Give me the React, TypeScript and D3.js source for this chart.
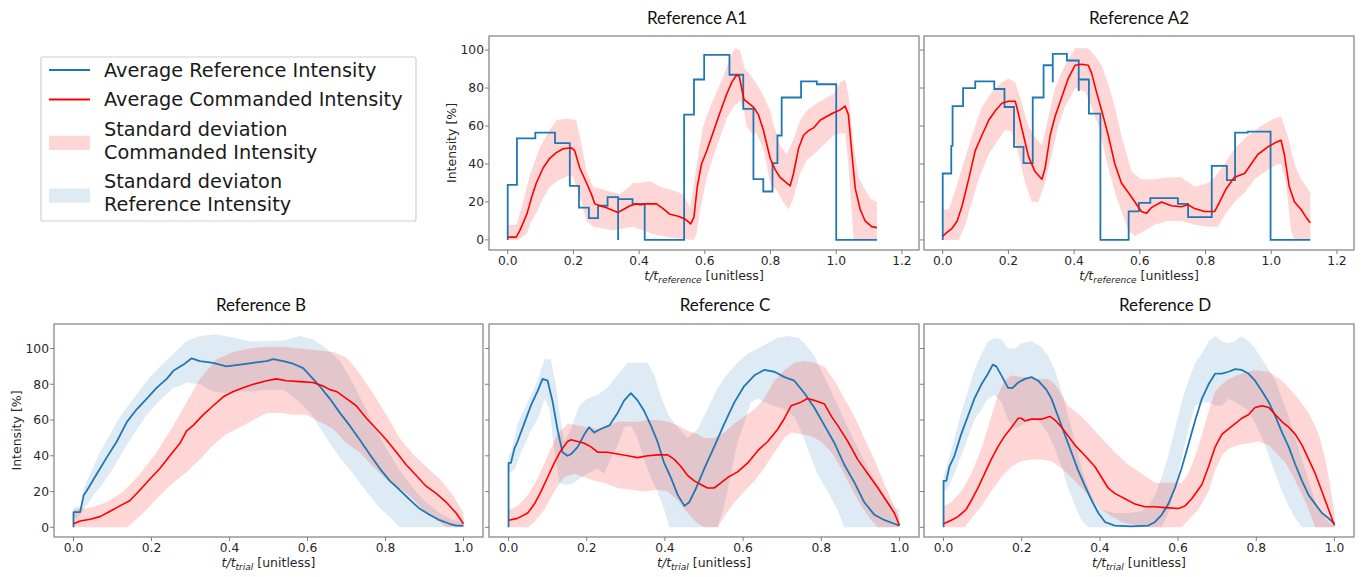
import React from 'react';
import * as d3 from 'd3';

type P = [number, number];

// ---------- tick values ----------
const topTicksX = [0, 0.2, 0.4, 0.6, 0.8, 1.0, 1.2];
const bottomTicksX = [0, 0.2, 0.4, 0.6, 0.8, 1.0];
const ticksY = [0, 20, 40, 60, 80, 100];

// ---------- legend ----------
const legendLabels = [
  ['Average Reference Intensity'],
  ['Average Commanded Intensity'],
  ['Standard deviation', 'Commanded Intensity'],
  ['Standard deviaton', 'Reference Intensity'],
];

// ---------- Reference A1 ----------
const a1RefStep: P[] = [[0,0],[0,29],[0.028,53.5],[0.084,56.5],[0.144,51],[0.189,28.5],[0.217,17],[0.247,11.5],[0.275,18],[0.304,22.5],[0.336,0],[0.336,21.5],[0.38,19],[0.417,0],[0.537,66],[0.567,84.5],[0.598,97.5],[0.675,87],[0.717,69],[0.748,32],[0.778,25.5],[0.806,40.5],[0.821,55],[0.834,75],[0.893,83.5],[0.941,82],[1.0,0],[1.124,0]];
const a1CmdMean: P[] = [[0,1.5],[0.026,1.5],[0.037,5],[0.047,9],[0.059,14],[0.072,22],[0.087,30],[0.108,38],[0.128,43],[0.148,46],[0.169,48],[0.194,48.5],[0.204,47],[0.219,38],[0.24,30],[0.255,24],[0.265,19],[0.28,18],[0.301,17],[0.321,15.5],[0.336,14.5],[0.352,16],[0.372,18],[0.392,19],[0.402,18.5],[0.423,19],[0.453,19],[0.473,16.5],[0.494,13.5],[0.519,12.5],[0.54,11],[0.557,8.5],[0.567,12],[0.577,28],[0.59,40],[0.606,47],[0.626,57],[0.646,67],[0.667,77],[0.682,83],[0.697,87],[0.705,86],[0.712,80],[0.719,74],[0.733,72],[0.748,70],[0.763,66],[0.778,58],[0.799,43],[0.814,37],[0.829,33],[0.849,30],[0.86,28.5],[0.87,35],[0.885,48],[0.9,55],[0.915,57.5],[0.931,59],[0.951,63],[0.971,65],[0.992,67],[1.012,68.5],[1.027,70.5],[1.037,66],[1.048,45],[1.058,27],[1.073,16],[1.088,10],[1.108,7],[1.124,6.5]];
const a1CmdUpper: P[] = [[0,8],[0.026,8],[0.042,17],[0.067,34],[0.098,49],[0.128,58],[0.148,63],[0.179,64],[0.209,63],[0.225,50],[0.24,36],[0.26,28],[0.301,26],[0.341,24],[0.362,27],[0.382,30],[0.402,30],[0.433,31],[0.463,28],[0.504,26],[0.534,24],[0.555,17],[0.567,30],[0.58,45],[0.595,60],[0.616,70],[0.636,78],[0.656,86],[0.677,96],[0.692,101],[0.707,100],[0.722,90],[0.738,87],[0.758,82],[0.778,76],[0.799,68],[0.809,61],[0.829,50],[0.849,45],[0.87,53],[0.89,63],[0.91,68],[0.941,72],[0.971,75],[0.992,77],[1.012,83],[1.027,84.5],[1.037,77],[1.053,50],[1.068,33],[1.083,28],[1.103,22],[1.124,20]];
const a1CmdLower: P[] = [[0,0],[0.031,0],[0.057,3],[0.072,10],[0.087,14],[0.108,22],[0.128,28],[0.159,32],[0.189,34],[0.199,33],[0.219,23],[0.24,10],[0.26,7],[0.291,6],[0.321,5],[0.352,6],[0.382,7],[0.413,5],[0.443,3],[0.473,2],[0.504,1],[0.534,0.5],[0.565,0],[0.575,3],[0.585,15],[0.606,33],[0.626,44],[0.646,54],[0.667,64],[0.687,70],[0.707,73],[0.717,70],[0.727,60],[0.743,56],[0.758,56],[0.778,48],[0.799,30],[0.819,26],[0.839,20],[0.855,16],[0.87,22],[0.89,35],[0.91,42],[0.931,45],[0.961,50],[0.992,55],[1.012,56],[1.027,56],[1.037,40],[1.053,0],[1.124,0]];

// ---------- Reference A2 ----------
const a2RefStep: P[] = [[0,0],[0,35],[0.026,49.5],[0.03,70.5],[0.062,80],[0.099,83.5],[0.157,79.5],[0.188,70],[0.217,49],[0.246,40.5],[0.274,75],[0.307,92],[0.335,83],[0.335,98],[0.378,94.5],[0.414,78.5],[0.414,84.5],[0.445,66.5],[0.48,0],[0.566,15],[0.597,19.5],[0.632,22],[0.716,19],[0.747,12],[0.819,39],[0.865,31.5],[0.89,56.5],[0.929,57],[0.998,0],[1.119,0]];
const a2CmdMean: P[] = [[0,2],[0.013,4],[0.028,6],[0.044,10],[0.059,18],[0.079,32],[0.099,47],[0.119,55],[0.14,63],[0.16,68],[0.18,72],[0.2,73],[0.221,73],[0.231,66],[0.246,55],[0.261,44],[0.281,36],[0.302,32],[0.312,38],[0.327,55],[0.342,65],[0.362,75],[0.382,85],[0.403,92],[0.423,92.5],[0.443,92],[0.453,88],[0.468,78],[0.484,68],[0.504,55],[0.524,40],[0.544,30],[0.565,25],[0.585,20],[0.605,15],[0.62,14],[0.635,17],[0.666,20],[0.696,18],[0.726,17.5],[0.747,18.5],[0.767,16.5],[0.797,15],[0.828,15],[0.843,20],[0.863,27],[0.888,33],[0.919,35],[0.939,40],[0.959,45],[0.99,49],[1.01,51],[1.03,52.5],[1.04,45],[1.055,28],[1.071,20],[1.091,16],[1.106,12],[1.119,9]];
const a2CmdUpper: P[] = [[0,16],[0.018,16],[0.038,26],[0.059,38],[0.089,55],[0.119,70],[0.15,78],[0.18,83],[0.2,85],[0.221,83],[0.241,72],[0.261,60],[0.281,54],[0.302,50],[0.322,65],[0.342,80],[0.372,92],[0.403,101],[0.443,101],[0.463,97],[0.484,92],[0.504,82],[0.524,70],[0.544,55],[0.575,36],[0.605,32],[0.646,32],[0.686,33],[0.726,33],[0.767,28],[0.807,30],[0.828,33],[0.858,40],[0.888,48],[0.929,55],[0.969,60],[1.01,64],[1.03,65],[1.05,55],[1.071,40],[1.091,32],[1.119,25]];
const a2CmdLower: P[] = [[0,0],[0.049,0],[0.069,8],[0.089,20],[0.109,32],[0.14,45],[0.17,53],[0.19,58],[0.21,57],[0.231,45],[0.251,30],[0.271,20],[0.291,20],[0.312,30],[0.332,45],[0.352,60],[0.372,70],[0.403,80],[0.433,78],[0.453,70],[0.474,60],[0.504,38],[0.524,25],[0.544,15],[0.565,5],[0.585,2],[0.615,5],[0.646,8],[0.686,10],[0.726,10],[0.767,8],[0.807,7],[0.838,7],[0.858,13],[0.888,20],[0.919,25],[0.949,32],[0.99,37],[1.02,40],[1.03,40],[1.045,30],[1.06,5],[1.071,0],[1.119,0]];

// ---------- Reference B ----------
const bRefMean: P[] = [[0,0],[0,8.5],[0.017,8.5],[0.026,18],[0.034,20.5],[0.06,30],[0.085,39],[0.111,48],[0.137,59],[0.162,66],[0.188,72],[0.213,78],[0.239,83],[0.256,87.5],[0.282,91],[0.303,94.5],[0.324,93],[0.358,92],[0.392,90],[0.427,91],[0.461,92],[0.495,93],[0.512,94],[0.538,93],[0.563,91.5],[0.589,89],[0.606,85],[0.631,79],[0.657,72],[0.683,64],[0.708,57],[0.734,49],[0.759,41],[0.785,33],[0.811,26],[0.836,21],[0.862,15.5],[0.887,10.5],[0.913,7],[0.939,4],[0.964,2],[0.981,1],[1,1]];
const bRefUpper: P[] = [[0,11],[0.021,12],[0.026,22],[0.043,30],[0.068,42],[0.094,52],[0.119,62],[0.154,72],[0.188,82],[0.222,90],[0.256,97],[0.29,104],[0.324,107],[0.367,108],[0.41,106],[0.452,104],[0.495,104],[0.538,104.5],[0.58,107],[0.614,105],[0.648,100],[0.683,93],[0.708,84],[0.734,73],[0.768,58],[0.802,44],[0.836,32],[0.87,22],[0.904,14],[0.939,8],[0.973,4],[1,3]];
const bRefLower: P[] = [[0,5],[0.009,5],[0.026,10],[0.051,18],[0.077,25],[0.102,33],[0.128,43],[0.154,52],[0.188,63],[0.222,71],[0.256,78],[0.273,79],[0.29,81],[0.324,80],[0.358,76],[0.392,75],[0.427,76],[0.461,76],[0.495,77],[0.538,77],[0.563,73],[0.589,68],[0.614,62],[0.631,56],[0.657,47],[0.683,39],[0.717,30],[0.751,20],[0.785,11],[0.819,4],[0.836,0],[1,0]];
const bCmdMean: P[] = [[0,2],[0.017,3.5],[0.043,4.5],[0.068,6],[0.094,9],[0.119,12],[0.145,15],[0.171,21],[0.196,27],[0.222,33],[0.247,40],[0.273,47],[0.29,54],[0.307,57],[0.333,63],[0.358,68],[0.384,73],[0.41,76],[0.435,78],[0.461,80],[0.495,82],[0.52,83],[0.546,82],[0.58,81.5],[0.614,81],[0.64,79],[0.657,77],[0.674,76],[0.7,72],[0.725,68],[0.751,61],[0.777,55],[0.802,49],[0.828,42],[0.853,35],[0.879,29],[0.904,23],[0.93,19],[0.956,14],[0.981,8],[1,2]];
const bCmdUpper: P[] = [[0,10],[0.043,11],[0.085,14],[0.128,20],[0.171,30],[0.213,42],[0.256,57],[0.29,70],[0.324,83],[0.367,94],[0.41,98],[0.452,100],[0.495,101],[0.538,101],[0.58,100],[0.623,99],[0.666,98],[0.7,95],[0.734,86],[0.768,75],[0.802,63],[0.836,50],[0.87,41],[0.904,34],[0.939,27],[0.973,18],[1,8]];
const bCmdLower: P[] = [[0,0],[0.137,0],[0.154,3],[0.188,10],[0.222,18],[0.256,25],[0.29,31],[0.324,38],[0.358,46],[0.392,52],[0.427,56],[0.461,60],[0.495,64],[0.529,64],[0.563,63],[0.597,63],[0.631,59],[0.666,55],[0.7,47],[0.734,42],[0.768,34],[0.802,27],[0.836,22],[0.87,16],[0.904,8],[0.939,3],[0.956,0],[1,0]];

// ---------- Reference C ----------
const cRefMean: P[] = [[0,0],[0,36],[0.006,36],[0.015,44],[0.023,48],[0.04,58],[0.057,68],[0.074,76],[0.087,83],[0.1,82],[0.113,70],[0.125,55],[0.138,42],[0.151,40],[0.16,41],[0.177,45],[0.194,52],[0.206,56],[0.219,53],[0.236,55],[0.258,57],[0.279,64],[0.296,71],[0.313,75],[0.33,71],[0.347,65],[0.364,57],[0.381,48],[0.398,36],[0.415,28],[0.433,18],[0.45,12],[0.462,14],[0.48,22],[0.501,33],[0.526,45],[0.552,58],[0.578,70],[0.603,79],[0.629,85],[0.654,88],[0.68,87],[0.706,84],[0.731,82],[0.757,75],[0.782,67],[0.808,57],[0.834,47],[0.859,35],[0.885,25],[0.91,14],[0.936,7],[0.962,4],[0.987,2],[1,1]];
const cRefUpper: P[] = [[0,40],[0.006,42],[0.023,58],[0.049,70],[0.074,82],[0.092,94],[0.108,94],[0.121,80],[0.13,65],[0.142,48],[0.16,55],[0.181,68],[0.202,72],[0.227,74],[0.253,78],[0.279,85],[0.305,92],[0.33,92],[0.356,92],[0.373,85],[0.39,73],[0.411,62],[0.433,56],[0.458,50],[0.484,55],[0.509,66],[0.535,78],[0.561,86],[0.586,92],[0.612,97],[0.638,100],[0.663,103],[0.689,106],[0.715,107],[0.741,106],[0.757,103],[0.782,96],[0.808,84],[0.834,72],[0.859,60],[0.885,48],[0.91,37],[0.936,27],[0.962,18],[0.987,11],[1,10]];
const cRefLower: P[] = [[0,30],[0.015,32],[0.032,42],[0.057,54],[0.078,62],[0.092,72],[0.104,67],[0.116,45],[0.13,25],[0.142,24],[0.16,24],[0.181,27],[0.202,30],[0.227,33],[0.244,30],[0.261,38],[0.279,46],[0.296,56],[0.313,57],[0.33,50],[0.347,38],[0.364,28],[0.381,20],[0.398,10],[0.411,0],[0.535,0],[0.552,12],[0.569,30],[0.586,48],[0.603,58],[0.62,70],[0.638,72],[0.654,70],[0.68,68],[0.706,66],[0.731,62],[0.748,54],[0.765,44],[0.79,30],[0.816,20],[0.841,10],[0.859,0],[1,0]];
const cCmdMean: P[] = [[0,4],[0.023,5],[0.049,8],[0.066,13],[0.083,20],[0.1,28],[0.117,36],[0.134,43],[0.151,48],[0.16,49],[0.177,48],[0.194,47],[0.211,45],[0.228,42],[0.253,42],[0.279,41],[0.305,40],[0.33,39],[0.356,40],[0.381,40.5],[0.407,40.5],[0.424,38],[0.441,34],[0.458,29],[0.475,26],[0.492,24],[0.509,22],[0.526,22],[0.544,25],[0.561,28],[0.586,31],[0.612,36],[0.638,43],[0.663,48],[0.689,55],[0.706,61],[0.723,68],[0.748,70],[0.765,72],[0.782,71],[0.808,69],[0.826,62],[0.842,57],[0.868,48],[0.893,38],[0.919,30],[0.945,22],[0.969,14],[0.987,8],[1,1]];
const cCmdUpper: P[] = [[0,10],[0.023,12],[0.049,18],[0.074,27],[0.1,40],[0.125,52],[0.151,58],[0.177,57],[0.202,56],[0.227,55],[0.253,57],[0.279,59],[0.305,59],[0.33,59],[0.356,60],[0.381,60],[0.407,59],[0.433,57],[0.458,54],[0.484,52],[0.501,50],[0.526,50],[0.552,53],[0.578,58],[0.603,62],[0.629,66],[0.654,72],[0.68,82],[0.706,88],[0.731,92],[0.757,93],[0.782,92],[0.808,90],[0.834,82],[0.859,72],[0.885,62],[0.91,50],[0.936,38],[0.962,24],[0.987,12],[1,5]];
const cCmdLower: P[] = [[0,0],[0.049,0],[0.066,3],[0.092,10],[0.117,20],[0.142,28],[0.168,30],[0.194,28],[0.219,26],[0.244,25],[0.279,22],[0.313,21],[0.347,20],[0.381,21],[0.407,20],[0.433,15],[0.458,8],[0.484,2],[0.501,0],[0.535,0],[0.552,6],[0.578,14],[0.603,20],[0.629,26],[0.654,33],[0.68,42],[0.706,50],[0.723,53],[0.748,52],[0.774,51],[0.8,48],[0.826,42],[0.851,33],[0.877,22],[0.902,12],[0.928,4],[0.945,0],[1,0]];

// ---------- Reference D ----------
const dRefMean: P[] = [[0,0],[0,26],[0.007,26],[0.015,34],[0.028,40],[0.045,52],[0.062,62],[0.079,72],[0.097,80],[0.114,86],[0.126,91],[0.135,90],[0.148,85],[0.165,78],[0.177,78],[0.191,81],[0.208,83],[0.225,84],[0.242,82],[0.263,77],[0.276,72],[0.293,62],[0.31,52],[0.327,42],[0.344,32],[0.362,23],[0.379,15],[0.396,8],[0.413,3],[0.438,1],[0.481,0.5],[0.524,1],[0.541,3],[0.558,7],[0.575,13],[0.592,22],[0.609,33],[0.626,46],[0.644,60],[0.661,72],[0.678,80],[0.695,86],[0.712,86],[0.729,87],[0.746,88.5],[0.763,88],[0.78,86],[0.797,82],[0.815,76],[0.832,70],[0.849,62],[0.866,53],[0.883,45],[0.9,35],[0.917,26],[0.934,18],[0.951,13],[0.968,8],[0.985,5],[1,2]];
const dRefUpper: P[] = [[0,28],[0.011,36],[0.028,50],[0.045,64],[0.062,76],[0.079,88],[0.097,97],[0.114,104],[0.131,106],[0.148,105],[0.165,100],[0.182,100],[0.199,103],[0.225,104],[0.25,101],[0.268,96],[0.285,88],[0.302,76],[0.319,62],[0.336,48],[0.353,33],[0.37,22],[0.387,14],[0.404,10],[0.438,8],[0.473,8],[0.507,9],[0.524,12],[0.541,18],[0.558,28],[0.575,40],[0.592,55],[0.609,70],[0.626,82],[0.644,92],[0.661,97],[0.678,104],[0.695,107],[0.712,104],[0.729,103],[0.746,104],[0.763,107],[0.78,104],[0.797,100],[0.815,94],[0.832,88],[0.849,82],[0.866,72],[0.883,62],[0.9,50],[0.917,38],[0.934,26],[0.951,14],[0.968,7],[0.985,3],[1,0]];
const dRefLower: P[] = [[0,20],[0.011,22],[0.028,30],[0.045,40],[0.062,50],[0.079,60],[0.097,66],[0.114,72],[0.131,74],[0.148,70],[0.165,60],[0.182,55],[0.199,57],[0.216,60],[0.234,60],[0.25,58],[0.268,52],[0.285,44],[0.302,34],[0.319,22],[0.336,12],[0.353,4],[0.37,0],[0.558,0],[0.575,8],[0.592,22],[0.609,38],[0.626,55],[0.644,68],[0.661,70],[0.678,70],[0.695,68],[0.712,68],[0.729,72],[0.746,70],[0.763,68],[0.78,65],[0.797,58],[0.815,50],[0.832,40],[0.849,30],[0.866,20],[0.883,12],[0.9,5],[0.917,0],[1,0]];
const dCmdMean: P[] = [[0,2],[0.02,4],[0.037,6],[0.058,10],[0.071,15],[0.088,22],[0.105,30],[0.122,38],[0.139,45],[0.156,51],[0.174,56],[0.191,61],[0.199,61],[0.208,59.5],[0.225,60.5],[0.25,60.5],[0.272,62],[0.285,60],[0.302,56],[0.319,51],[0.336,46],[0.362,40],[0.387,34],[0.404,28],[0.421,22],[0.438,19],[0.464,16],[0.49,13],[0.515,11.5],[0.541,11.5],[0.567,11],[0.601,10.5],[0.618,12],[0.635,16],[0.661,24],[0.678,34],[0.695,45],[0.712,52],[0.729,55],[0.746,58],[0.763,61],[0.78,63],[0.797,67],[0.815,68],[0.832,67],[0.849,63],[0.866,59],[0.883,56],[0.9,52],[0.917,46],[0.934,38],[0.951,30],[0.968,20],[0.985,10],[1,1]];
const dCmdUpper: P[] = [[0,12],[0.02,14],[0.045,20],[0.071,30],[0.097,44],[0.122,62],[0.139,74],[0.156,82],[0.174,85],[0.199,84],[0.234,83],[0.268,83],[0.285,80],[0.302,74],[0.319,68],[0.336,65],[0.353,62],[0.37,58],[0.387,54],[0.404,50],[0.438,42],[0.473,35],[0.507,30],[0.541,25],[0.575,25],[0.609,25],[0.626,30],[0.644,40],[0.661,52],[0.678,65],[0.695,76],[0.712,80],[0.729,83],[0.763,86],[0.797,88],[0.832,87],[0.866,82],[0.9,74],[0.934,64],[0.96,52],[0.977,38],[0.99,22],[1,8]];
const dCmdLower: P[] = [[0,0],[0.054,0],[0.071,5],[0.097,12],[0.122,20],[0.148,28],[0.174,34],[0.199,37],[0.225,38],[0.25,38],[0.276,37],[0.302,33],[0.327,28],[0.353,22],[0.379,16],[0.404,10],[0.43,6],[0.456,3],[0.49,1],[0.524,0],[0.609,0],[0.626,4],[0.652,10],[0.678,20],[0.695,32],[0.712,40],[0.729,44],[0.755,46],[0.78,47],[0.806,48],[0.832,46],[0.849,42],[0.875,36],[0.9,26],[0.926,14],[0.943,5],[0.951,0],[1,0]];

// ---------- styling ----------
const BLUE = '#1f77b4';
const RED = '#ff0000';
const FONT = '"DejaVu Sans", sans-serif';
const TITLE_FONT = 'Lato, "Open Sans", sans-serif';
const SPINE = '#7f7f7f';

interface PanelDef {
  title: string;
  titleX: number;
  box: [number, number, number, number]; // left, right, top, bottom
  xDom: [number, number];
  yDom: [number, number];
  xTicks: number[];
  showYLabels: boolean;
  sub: string;
  refStep?: P[];
  refMean?: P[];
  refUpper?: P[];
  refLower?: P[];
  cmdMean: P[];
  cmdUpper: P[];
  cmdLower: P[];
}

const TOP_X: [number, number] = [-0.057, 1.252];
const TOP_Y: [number, number] = [-5.3, 107.4];
const BOT_X: [number, number] = [-0.05, 1.05];
const BOT_Y: [number, number] = [-5.4, 113.7];

const panels: PanelDef[] = [
  { title: 'Reference A1', titleX: 697, box: [489, 919, 36, 250], xDom: TOP_X, yDom: TOP_Y, xTicks: topTicksX, showYLabels: true, sub: 'reference', refStep: a1RefStep, cmdMean: a1CmdMean, cmdUpper: a1CmdUpper, cmdLower: a1CmdLower },
  { title: 'Reference A2', titleX: 1139, box: [924, 1354, 36, 250], xDom: TOP_X, yDom: TOP_Y, xTicks: topTicksX, showYLabels: false, sub: 'reference', refStep: a2RefStep, cmdMean: a2CmdMean, cmdUpper: a2CmdUpper, cmdLower: a2CmdLower },
  { title: 'Reference B', titleX: 261, box: [54, 483, 324, 537], xDom: BOT_X, yDom: BOT_Y, xTicks: bottomTicksX, showYLabels: true, sub: 'trial', refMean: bRefMean, refUpper: bRefUpper, refLower: bRefLower, cmdMean: bCmdMean, cmdUpper: bCmdUpper, cmdLower: bCmdLower },
  { title: 'Reference C', titleX: 725, box: [489, 919, 324, 537], xDom: BOT_X, yDom: BOT_Y, xTicks: bottomTicksX, showYLabels: false, sub: 'trial', refMean: cRefMean, refUpper: cRefUpper, refLower: cRefLower, cmdMean: cCmdMean, cmdUpper: cCmdUpper, cmdLower: cCmdLower },
  { title: 'Reference D', titleX: 1165, box: [924, 1354, 324, 537], xDom: BOT_X, yDom: BOT_Y, xTicks: bottomTicksX, showYLabels: false, sub: 'trial', refMean: dRefMean, refUpper: dRefUpper, refLower: dRefLower, cmdMean: dCmdMean, cmdUpper: dCmdUpper, cmdLower: dCmdLower },
];

function Panel({ p }: { p: PanelDef }) {
  const [l, r, t, b] = p.box;
  const x = d3.scaleLinear().domain(p.xDom).range([l, r]);
  const y = d3.scaleLinear().domain(p.yDom).range([b, t]);
  const line = d3.line<P>().x(d => x(d[0])).y(d => y(d[1]));
  const step = d3.line<P>().x(d => x(d[0])).y(d => y(d[1])).curve(d3.curveStepAfter);
  const band = (up: P[], lo: P[]) => (line([...up, ...lo.slice().reverse()]) || '') + 'Z';
  const cx = (l + r) / 2;
  const cy = (t + b) / 2;
  return (
    <g>
      {p.refUpper && p.refLower && (
        <path d={band(p.refUpper, p.refLower)} fill={BLUE} fillOpacity={0.15} stroke="none" />
      )}
      <path d={band(p.cmdUpper, p.cmdLower)} fill={RED} fillOpacity={0.16} stroke="none" />
      {p.refStep && <path d={step(p.refStep) || ''} fill="none" stroke={BLUE} strokeWidth={1.8} />}
      {p.refMean && <path d={line(p.refMean) || ''} fill="none" stroke={BLUE} strokeWidth={1.8} strokeLinejoin="round" />}
      <path d={line(p.cmdMean) || ''} fill="none" stroke={RED} strokeWidth={1.6} strokeLinejoin="round" />
      <rect x={l} y={t} width={r - l} height={b - t} fill="none" stroke={SPINE} strokeWidth={1.2} />
      {p.xTicks.map(v => (
        <g key={'x' + v}>
          <line x1={x(v)} x2={x(v)} y1={b} y2={b + 4} stroke={SPINE} strokeWidth={1} />
          <text x={x(v)} y={b + 15} textAnchor="middle" fontFamily={FONT} fontSize={12.3} fill="#262626">{v.toFixed(1)}</text>
        </g>
      ))}
      {ticksY.map(v => (
        <g key={'y' + v}>
          <line x1={l - 4} x2={l} y1={y(v)} y2={y(v)} stroke={SPINE} strokeWidth={1} />
          {p.showYLabels && (
            <text x={l - 5} y={y(v)} dy="0.36em" textAnchor="end" fontFamily={FONT} fontSize={12.3} fill="#262626">{v}</text>
          )}
        </g>
      ))}
      {p.showYLabels && (
        <text transform={`translate(${l - 38},${cy}) rotate(-90)`} textAnchor="middle" dy="0.36em" fontFamily={FONT} fontSize={12.5} fill="#262626">Intensity [%]</text>
      )}
      <text x={cx} y={b + 30} textAnchor="middle" fontFamily={FONT} fontSize={12.5} fill="#262626">
        <tspan fontStyle="italic">t/t</tspan>
        <tspan fontStyle="italic" fontSize={9} dy={3}>{p.sub}</tspan>
        <tspan dy={-3}> [unitless]</tspan>
      </text>
      <text x={p.titleX} y={b === 250 ? 24 : 311} textAnchor="middle" fontFamily={TITLE_FONT} fontSize={17} fill="#111">{p.title}</text>
    </g>
  );
}

function Legend() {
  const fs = 19.3;
  const textX = 104;
  return (
    <g fontFamily={FONT} fontSize={fs} fill="#1a1a1a">
      <rect x={41} y={57} width={375} height={164} rx={2} fill="#fff" stroke="#d0d0d0" strokeWidth={1.2} />
      <line x1={49} x2={90} y1={70} y2={70} stroke={BLUE} strokeWidth={1.8} />
      <text x={textX} y={76.7}>{legendLabels[0][0]}</text>
      <line x1={49} x2={90} y1={99.5} y2={99.5} stroke={RED} strokeWidth={1.8} />
      <text x={textX} y={106}>{legendLabels[1][0]}</text>
      <rect x={49} y={135.7} width={41} height={14.3} fill={RED} fillOpacity={0.16} />
      <text x={textX} y={136}>{legendLabels[2][0]}</text>
      <text x={textX} y={158.7}>{legendLabels[2][1]}</text>
      <rect x={49} y={188.5} width={41} height={14.3} fill={BLUE} fillOpacity={0.15} />
      <text x={textX} y={188.3}>{legendLabels[3][0]}</text>
      <text x={textX} y={210.7}>{legendLabels[3][1]}</text>
    </g>
  );
}

export default function App() {
  return (
    <div style={{ position: 'absolute', left: 0, top: 0 }}>
      <svg width={1363} height={577} style={{ display: 'block', background: '#fff' }}>
        <Legend />
        {panels.map(p => <Panel key={p.title} p={p} />)}
      </svg>
    </div>
  );
}
